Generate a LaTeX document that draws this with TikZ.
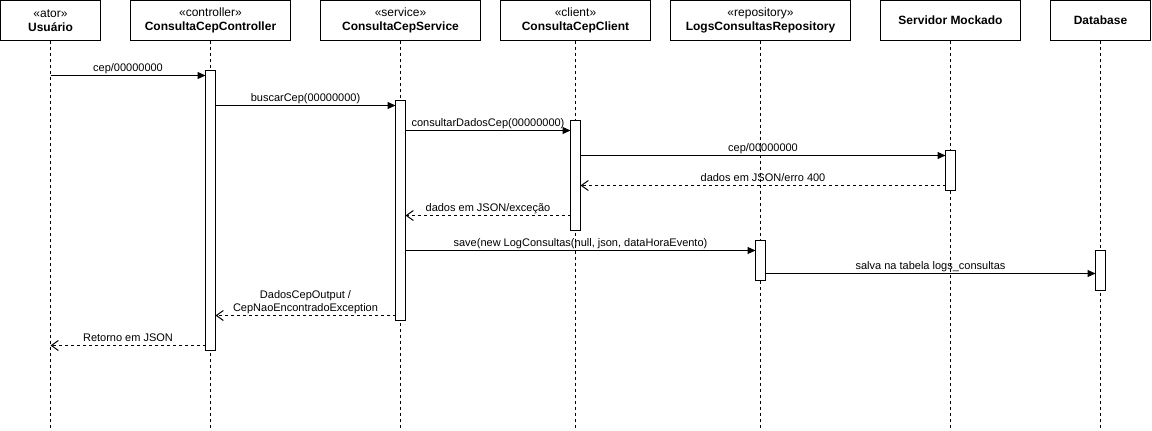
\documentclass[tikz,border=0pt]{standalone}
\usepackage{fontspec}
\setmainfont{Liberation Sans}
\usetikzlibrary{positioning,arrows.meta}

\tikzset{
  head/.style={draw, line width=1pt, minimum width=#1, minimum height=40pt, inner sep=0pt, outer sep=0pt, align=center, font=\fontsize{12}{14}\selectfont},
  lifeline/.style={line width=1pt, dash pattern=on 3pt off 3pt},
  act/.style={draw, fill=white, line width=1pt, minimum width=10pt, minimum height=#1, inner sep=0pt, outer sep=0pt},
  call/.style={line width=1pt, -{Triangle[length=8pt,width=7pt]}},
  reply/.style={line width=1pt, dash pattern=on 3pt off 3pt, -{Straight Barb[length=7pt,width=10pt]}},
  msg/.style={midway, anchor=south, inner sep=0pt, text depth=0pt, yshift=4pt, align=center, font=\fontsize{11}{13}\selectfont}
}

\begin{document}
\begin{tikzpicture}[x=1pt,y=1pt]
\useasboundingbox (0,0) rectangle (1152,-431);
\node[head=100pt, anchor=north west] (usr) at (0.5,-0.5) {«ator»\\\textbf{Usuário}};
\node[head=160pt, right=30pt of usr] (ctrl) {«controller»\\\textbf{ConsultaCepController}};
\node[head=160pt, right=30pt of ctrl] (svc) {«service»\\\textbf{ConsultaCepService}};
\node[head=150pt, right=20pt of svc] (cli) {«client»\\\textbf{ConsultaCepClient}};
\node[head=180pt, right=20pt of cli] (repo) {«repository»\\\textbf{LogsConsultasRepository}};
\node[head=140pt, right=30pt of repo] (srv) {\textbf{Servidor Mockado}};
\node[head=100pt, right=30pt of srv] (db) {\textbf{Database}};

\coordinate (bot) at (0,-431);
\foreach \n in {usr,ctrl,svc,cli,repo,srv,db}
  \draw[lifeline] (\n.south) -- (\n |- bot);

\node[act=280pt, below=30pt of ctrl] (ctrlact) {};
\node[act=220pt, below=60pt of svc] (svcact) {};
\node[act=110pt, below=80pt of cli] (cliact) {};
\node[act=40pt, below=110pt of srv] (srvact) {};
\node[act=40pt, below=200pt of repo] (repoact) {};
\node[act=40pt, below=210pt of db] (dbact) {};

\coordinate (m1) at ([yshift=-5pt]ctrlact.north west);
\coordinate (m2) at ([yshift=-5pt]svcact.north west);
\coordinate (m3) at ([yshift=-10pt]cliact.north west);
\coordinate (m4) at ([yshift=-5pt]srvact.north west);
\coordinate (m5) at ([yshift=5pt]srvact.south west);
\coordinate (m6) at ([yshift=15pt]cliact.south west);
\coordinate (m7) at ([yshift=-10pt]repoact.north west);
\coordinate (m8) at ([yshift=-23pt]dbact.north west);
\coordinate (m9) at ([yshift=5pt]svcact.south west);
\coordinate (m10) at ([yshift=5pt]ctrlact.south west);

\draw[call] (usr |- m1) -- node[msg] {cep/00000000} (m1);
\draw[call] (ctrlact.east |- m2) -- node[msg] {buscarCep(00000000)} (m2);
\draw[call] (svcact.east |- m3) -- node[msg] {consultarDadosCep(00000000)} (m3);
\draw[call] (cliact.east |- m4) -- node[msg] {cep/00000000} (m4);
\draw[reply] (m5) -- node[msg] {dados em JSON/erro 400} (cliact.east |- m5);
\draw[reply] (m6) -- node[msg] {dados em JSON/exceção} (svcact.east |- m6);
\draw[call] (svcact.east |- m7) -- node[msg] {save(new LogConsultas(null, json, dataHoraEvento)} (m7);
\draw[call] (repoact.east |- m8) -- node[msg] {salva na tabela logs\_consultas} (m8);
\draw[reply] (m9) -- node[msg] {DadosCepOutput /\\CepNaoEncontradoException} (ctrlact.east |- m9);
\draw[reply] (m10) -- node[msg] {Retorno em JSON} (usr |- m10);
\end{tikzpicture}
\end{document}
